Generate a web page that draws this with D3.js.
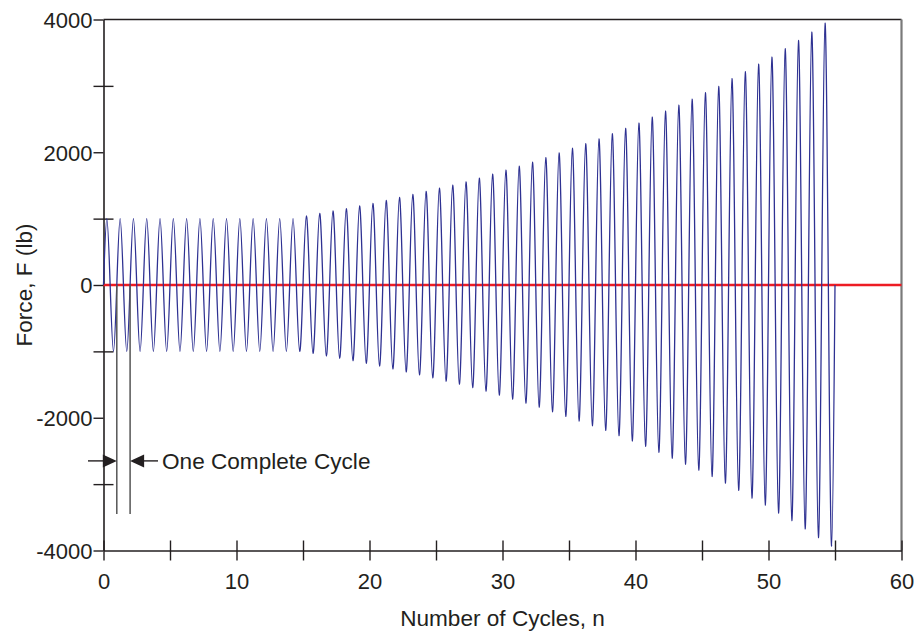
<!DOCTYPE html>
<html><head><meta charset="utf-8">
<script src="https://cdn.jsdelivr.net/npm/d3@7"></script>
<style>
html,body{margin:0;padding:0;background:#fff;}
svg{display:block;font-family:"Liberation Sans",Arial,Helvetica,sans-serif;}
</style></head>
<body>
<svg id="chart" width="916" height="631"></svg>
<script>
// ---- data ----
const cycleIndex = d3.range(0, 55);   // cycle number k (0..54)
const peakForce = [1000,1000,1000,1000,1000,1000,1000,1000,1000,1000,
  1000,1000,1000,1000,1000,1040,1080,1115,1150,1190,
  1230,1275,1320,1365,1410,1460,1505,1555,1610,1670,
  1730,1790,1850,1920,1990,2060,2130,2200,2280,2360,
  2440,2530,2620,2710,2800,2898,2992,3108,3213,3328,
  3433,3559,3684,3809,3944];
const troughForce = [-1000,-1000,-1000,-1000,-1000,-1000,-1000,-1000,-1000,-1000,
  -1000,-1000,-1000,-1000,-1000,-1030,-1070,-1105,-1140,-1180,
  -1220,-1265,-1310,-1355,-1400,-1450,-1495,-1545,-1600,-1660,
  -1720,-1780,-1840,-1910,-1980,-2050,-2120,-2190,-2270,-2350,
  -2430,-2520,-2610,-2700,-2790,-2885,-2985,-3095,-3210,-3315,
  -3435,-3550,-3675,-3805,-3935];
const xTicks = [0,5,10,15,20,25,30,35,40,45,50,55,60];
const xTickLabels = ["0","","10","","20","","30","","40","","50","","60"];
const yTicks = [-4000,-3000,-2000,-1000,0,1000,2000,3000,4000];
const yTickLabels = ["-4000","","-2000","","0","","2000","","4000"];
const cycleMarkers = [1, 2];
const markerBottom = -3450;
const arrowForce = -2650;
const annotation = "One Complete Cycle";
const xTitle = "Number of Cycles, n";
const yTitle = "Force, F (lb)";

// ---- layout ----
const svg = d3.select("#chart");
const x = d3.scaleLinear().domain([0, 60]).range([103.5, 901.5]);
const y = d3.scaleLinear().domain([-4000, 4000]).range([550.5, 19.5]);
const TICKFONT = 22;
const FONT = 22.6;
const axisColor = "#231f20";

// series points: zero, peak, zero, trough per cycle
const pts = [];
cycleIndex.forEach((k, i) => {
  pts.push([k, 0]);
  pts.push([k + 0.25, peakForce[i]]);
  pts.push([k + 0.5, 0]);
  pts.push([k + 0.75, troughForce[i]]);
});
pts.push([55, 0]);

// frame: top and right
svg.append("line").attr("x1", x(0)).attr("x2", x(60)).attr("y1", y(4000)).attr("y2", y(4000))
  .attr("stroke", axisColor).attr("stroke-width", 1.6);
svg.append("line").attr("x1", x(60)).attr("x2", x(60)).attr("y1", y(4000)).attr("y2", y(-4000))
  .attr("stroke", "#7a7a7a").attr("stroke-width", 2.2);

// x axis
const gx = svg.append("g").attr("transform", `translate(0,${y(-4000)})`)
  .call(d3.axisBottom(x).tickValues(xTicks).tickSize(0).tickPadding(0)
    .tickFormat((d, i) => xTickLabels[i]));
gx.select(".domain").attr("stroke", axisColor).attr("stroke-width", 1.6);
gx.selectAll(".tick line").attr("y1", -10).attr("y2", 10)
  .attr("stroke", axisColor).attr("stroke-width", 1.4);
gx.selectAll(".tick text").attr("y", 38).attr("dy", 0)
  .attr("font-size", TICKFONT).attr("fill", "#231f20").attr("font-family", "Liberation Sans, Arial, sans-serif");

// y axis
const gy = svg.append("g").attr("transform", `translate(${x(0)},0)`)
  .call(d3.axisLeft(y).tickValues(yTicks).tickSize(0).tickPadding(0)
    .tickFormat((d, i) => yTickLabels[i]));
gy.select(".domain").attr("stroke", axisColor).attr("stroke-width", 1.6);
gy.selectAll(".tick line")
  .attr("x1", -10)
  .attr("x2", d => (d % 2000 === 0 ? 0 : 10))
  .attr("stroke", axisColor).attr("stroke-width", 1.4);
gy.selectAll(".tick text").attr("x", -11).attr("dy", "0.36em")
  .attr("font-size", TICKFONT).attr("fill", "#231f20").attr("font-family", "Liberation Sans, Arial, sans-serif");

// zero reference line
svg.append("line").attr("x1", x(0)).attr("x2", x(60)).attr("y1", y(0)).attr("y2", y(0))
  .attr("stroke", "#ed1c24").attr("stroke-width", 2.6);

// force curve
const line = d3.line().x(d => x(d[0])).y(d => y(d[1])).curve(d3.curveNatural);
svg.append("path").datum(pts).attr("d", line)
  .attr("fill", "none").attr("stroke", "#2e3192").attr("stroke-width", 1.3);

// cycle marker lines
svg.selectAll(".marker").data(cycleMarkers).join("line")
  .attr("x1", d => x(d)).attr("x2", d => x(d))
  .attr("y1", y(0)).attr("y2", y(markerBottom))
  .attr("stroke", "#555").attr("stroke-width", 1.5);

// arrows
function arrowHead(tipX, dir) {
  const ay = y(arrowForce);
  const len = 14, half = 6.5;
  svg.append("path")
    .attr("d", `M${tipX},${ay} L${tipX - dir * len},${ay - half} L${tipX - dir * len},${ay + half} Z`)
    .attr("fill", "#231f20");
}
svg.append("line").attr("x1", 88).attr("x2", x(cycleMarkers[0]) - 10)
  .attr("y1", y(arrowForce)).attr("y2", y(arrowForce)).attr("stroke", "#231f20").attr("stroke-width", 1.4);
arrowHead(x(cycleMarkers[0]), 1);
svg.append("line").attr("x1", x(cycleMarkers[1]) + 10).attr("x2", 158)
  .attr("y1", y(arrowForce)).attr("y2", y(arrowForce)).attr("stroke", "#231f20").attr("stroke-width", 1.4);
arrowHead(x(cycleMarkers[1]), -1);

svg.append("text").attr("x", 162).attr("y", y(arrowForce) + 8)
  .attr("font-size", FONT).attr("fill", "#231f20").text(annotation);

// titles
svg.append("text").attr("x", (x(0) + x(60)) / 2).attr("y", 626)
  .attr("text-anchor", "middle").attr("font-size", FONT).attr("fill", "#231f20").text(xTitle);
svg.append("text").attr("transform", `translate(32,${y(0)}) rotate(-90)`)
  .attr("text-anchor", "middle").attr("font-size", FONT).attr("fill", "#231f20").text(yTitle);
</script>
</body></html>
